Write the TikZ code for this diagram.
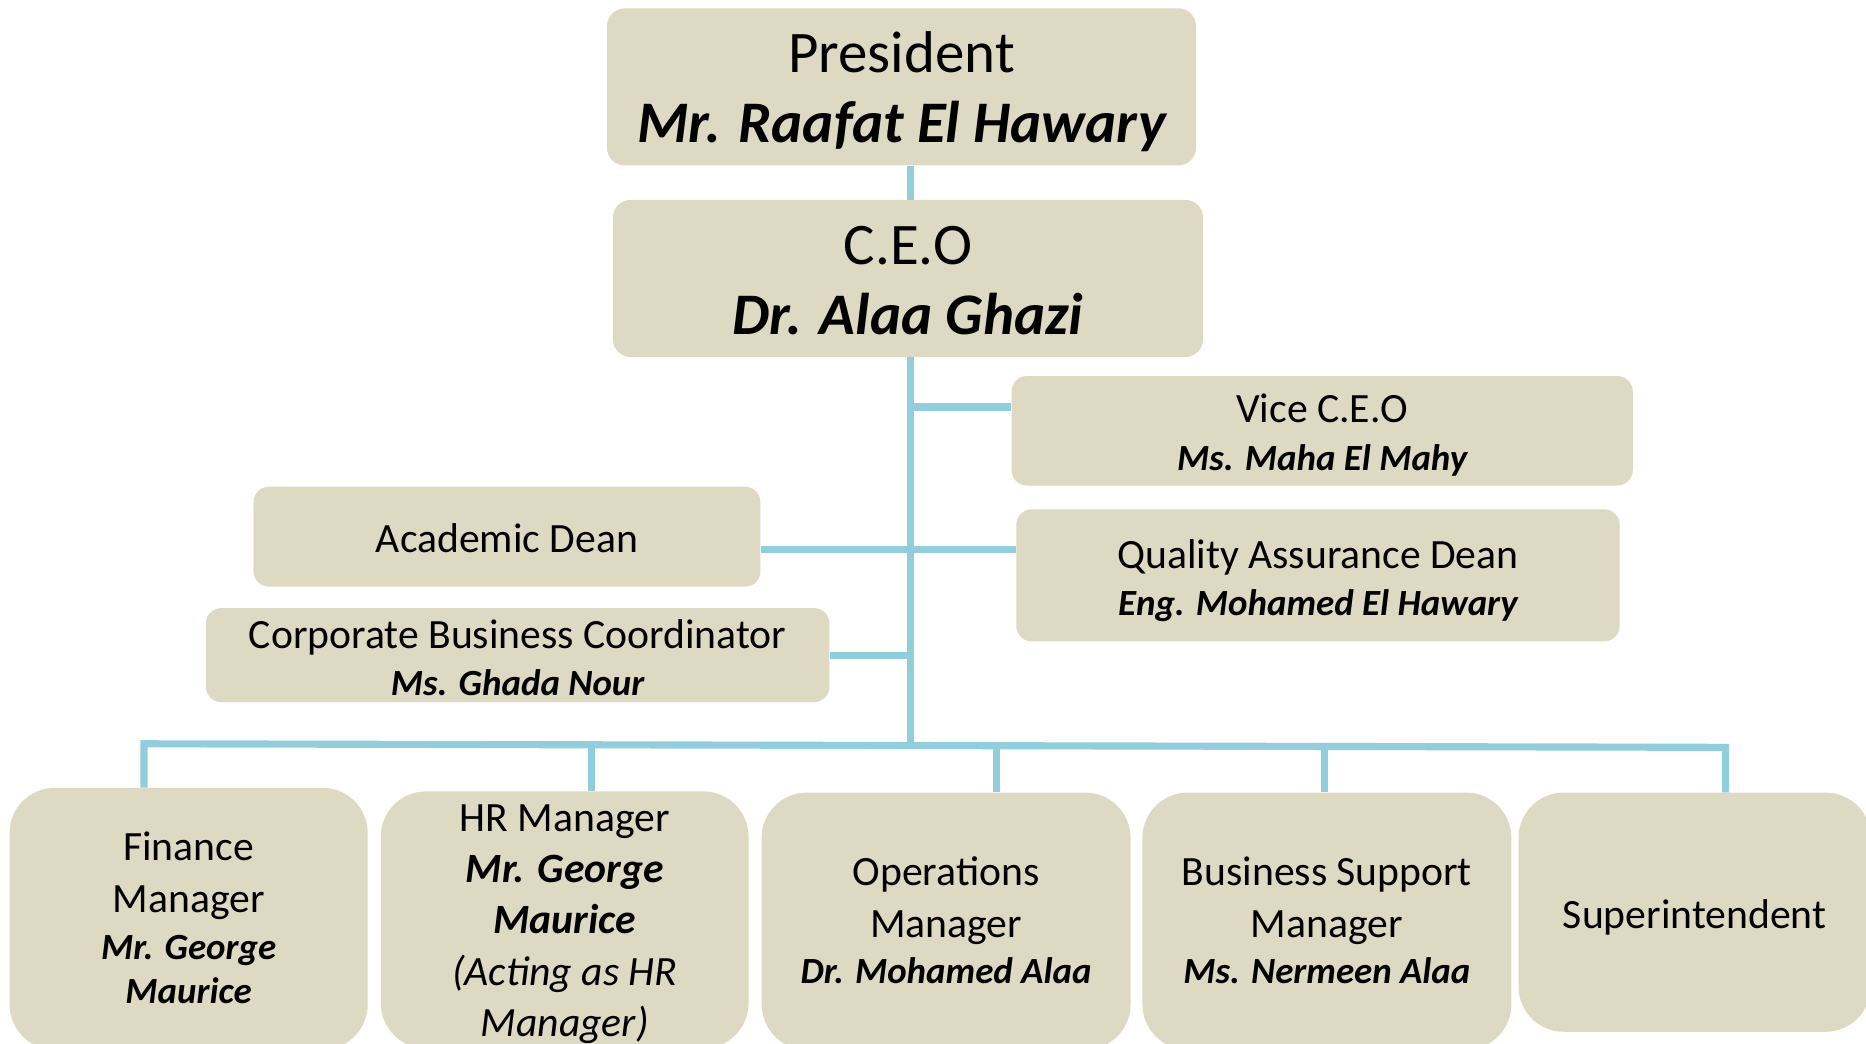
\documentclass[tikz,border=0pt]{standalone}
\usepackage{fontspec}
\setmainfont{Carlito}
\definecolor{boxfill}{HTML}{DDD9C3}
\definecolor{linkblue}{HTML}{92CDDC}
\begin{document}
\begin{tikzpicture}[x=1pt,y=-1pt,
  box/.style={fill=boxfill, draw=none, rounded corners=15pt, inner sep=0pt},
  midbox/.style={box, rounded corners=13pt},
  bigbox/.style={box, rounded corners=38pt},
  label text/.style={inner sep=0pt, align=center, text=black},
  topfont/.style={label text, font=\fontsize{49.5}{59}\selectfont},
  midfont/.style={label text, font=\fontsize{35}{40}\selectfont},
  lowfont/.style={label text, font=\fontsize{35}{43}\selectfont},
  link/.style={draw=linkblue, line width=6pt},
  ]
\useasboundingbox (0,0) rectangle (1568,877);
\clip (0,0) rectangle (1568,877);
\newcommand{\nm}[1]{{\fontsize{31}{40}\selectfont\bfseries\itshape #1}}
% boxes
\node[box, minimum width=495pt, minimum height=132pt] (pres) at (757.5,73) {};
\node[box, minimum width=496pt, minimum height=132pt] (ceo) at (763,234) {};
\node[midbox, minimum width=522pt, minimum height=92pt] (vice) at (1111,362) {};
\node[midbox, minimum width=426pt, minimum height=84pt] (acad) at (426,451) {};
\node[midbox, minimum width=507pt, minimum height=111pt] (qa) at (1107.5,483.5) {};
\node[midbox, minimum width=524pt, minimum height=79pt] (corp) at (435,550.5) {};
\node[bigbox, minimum width=301pt, minimum height=220pt] (fin) at (158.5,772) {};
\node[bigbox, minimum width=309pt, minimum height=216pt] (hr) at (474.5,773) {};
\node[bigbox, minimum width=310pt, minimum height=216pt] (ops) at (795,774) {};
\node[bigbox, minimum width=310pt, minimum height=216pt] (bsm) at (1115,774) {};
\node[bigbox, minimum width=296pt, minimum height=201pt] (sup) at (1424,766.5) {};
% texts
\node[topfont] (presT) at ([yshift=-4pt]pres.center)
  {President\\{\bfseries\itshape Mr. Raafat El Hawary}};
\node[topfont] (ceoT) at ([yshift=-1.5pt]ceo.center)
  {C.E.O\\{\bfseries\itshape Dr. Alaa Ghazi}};
\node[midfont] (viceT) at ([yshift=-3.5pt]vice.center)
  {Vice C.E.O\\\nm{Ms. Maha El Mahy}};
\node[midfont] (acadT) at ([yshift=-1pt]acad.center) {Academic Dean};
\node[midfont] (qaT) at ([yshift=-4.5pt]qa.center)
  {Quality Assurance Dean\\\nm{Eng. Mohamed El Hawary}};
\node[midfont] (corpT) at ([yshift=-2pt]corp.center)
  {Corporate Business Coordinator\\\nm{Ms. Ghada Nour}};
\node[lowfont] (finT) at ([yshift=0.5pt]fin.center)
  {Finance\\Manager\\[-3pt]\nm{Mr. George}\\[-6pt]\nm{Maurice}};
\node[lowfont] (hrT) at ([yshift=-3.5pt]hr.center)
  {HR Manager\\{\bfseries\itshape Mr. George}\\{\bfseries\itshape Maurice}\\{\itshape (Acting as HR}\\{\itshape Manager)}};
\node[lowfont] (opsT) at ([yshift=0.5pt]ops.center)
  {Operations\\Manager\\[-4pt]\nm{Dr. Mohamed Alaa}};
\node[lowfont] (bsmT) at ([yshift=0.5pt]bsm.center)
  {Business Support\\Manager\\[-4pt]\nm{Ms. Nermeen Alaa}};
\node[lowfont] (supT) at ([yshift=-4pt]sup.center) {Superintendent};
% connectors
\coordinate (hub) at (765,625);
\coordinate (d1) at (121,625);
\coordinate (d2) at (497,625.8);
\coordinate (d3) at (837,626.6);
\coordinate (d4) at (1113,627.2);
\coordinate (d5) at (1450,628);
\draw[link] (pres.south -| hub) -- (ceo.north -| hub);
\draw[link] (ceo.south -| hub) -- (hub);
\draw[link] ([yshift=20pt]vice.west) -- ([yshift=20pt]vice.west -| hub);
\draw[link] ([yshift=-11pt]acad.east) -- ([yshift=21.5pt]qa.west);
\draw[link] (corp.east) -- (corp.east -| hub);
\draw[link] (d1 |- fin.north) -- (d1) -- (d5) -- (d5 |- sup.north);
\draw[link] (d2) -- (d2 |- hr.north);
\draw[link] (d3) -- (d3 |- ops.north);
\draw[link] (d4) -- (d4 |- bsm.north);
\end{tikzpicture}
\end{document}
